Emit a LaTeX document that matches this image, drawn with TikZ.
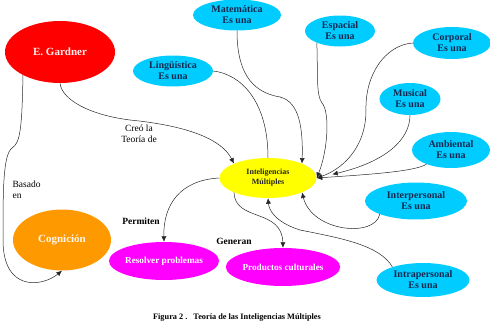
\documentclass[tikz,border=0pt]{standalone}
\usepackage{fontspec}
\setmainfont{Liberation Serif}
\usetikzlibrary{arrows.meta,shapes.geometric}

\definecolor{skyfill}{RGB}{0,204,255}
\definecolor{navytext}{RGB}{22,40,78}
\definecolor{redfill}{RGB}{255,0,0}
\definecolor{orangefill}{RGB}{255,153,0}
\definecolor{pinkfill}{RGB}{255,0,255}
\definecolor{yellowfill}{RGB}{255,255,0}

\begin{document}
\begin{tikzpicture}[
    x=1pt, y=-1pt,
    idea/.style={ellipse, inner sep=0pt, align=center,
                 font=\bfseries\fontsize{10}{11}\selectfont},
    kind/.style={idea, fill=skyfill, text=navytext},
    root/.style={idea, font=\bfseries\fontsize{11}{13}\selectfont},
    goal/.style={idea, fill=pinkfill, text=white,
                 font=\bfseries\fontsize{9.2}{11}\selectfont},
    link/.style={align=center, font=\fontsize{9.5}{11}\selectfont},
    verb/.style={font=\bfseries\fontsize{9.5}{11}\selectfont},
    arr/.style={-{Latex[length=5.5pt,width=5pt]}, line width=0.5pt, black!85},
    line/.style={line width=0.5pt, black!85}]
    \useasboundingbox (0,0) rectangle (490,324);
    % main nodes
    \node[root, fill=redfill, text=red!8, minimum width=110pt, minimum height=62pt]
        (gardner) at (60,52) {E. Gardner};
    \node[idea, fill=yellowfill, text=black!85, minimum width=97pt, minimum height=40pt,
          font=\bfseries\fontsize{8}{10}\selectfont]
        (multi) at (268,178) {Inteligencias\\ Múltiples};
    \node[root, fill=orangefill, text=orange!8, minimum width=98pt, minimum height=61pt]
        (cogn) at (62,240) {Cognición};
    \node[goal, minimum width=92pt, minimum height=38pt] (reso) at (164,261) {Resolver problemas};
    \node[goal, minimum width=103pt, minimum height=38pt] (prod) at (283,267) {Productos culturales};
    % the kinds of intelligence
    \node[kind, minimum width=80pt, minimum height=31pt] (ling) at (173,71) {Lingüística\\ Es una};
    \node[kind, minimum width=88pt, minimum height=31pt] (mate) at (237,15) {Matemática\\ Es una};
    \node[kind, minimum width=70pt, minimum height=31pt] (espa) at (340,31) {Espacial\\ Es una};
    \node[kind, minimum width=78pt, minimum height=32pt] (corp) at (452,43) {Corporal\\ Es una};
    \node[kind, minimum width=61pt, minimum height=32pt] (musi) at (410,99) {Musical\\ Es una};
    \node[kind, minimum width=78pt, minimum height=36pt] (ambi) at (451,150) {Ambiental\\ Es una};
    \node[kind, minimum width=102pt, minimum height=37pt] (inter) at (416,201) {Interpersonal\\ Es una};
    \node[kind, minimum width=93pt, minimum height=34pt] (intra) at (423,280) {Intrapersonal\\ Es una};
    % link words
    \node[link] (creo) at (139,134) {Creó la\\ Teoría de};
    \node[link, align=left, anchor=west] (basado) at (9,190) {Basado\\ en};
    \node[verb] (permiten) at (141,221) {Permiten};
    \node[verb] (generan) at (234,241) {Generan};
    \node[font=\bfseries\fontsize{8.3}{10}\selectfont] (caption) at (237,318)
        {Figura 2 .\hspace{6pt}Teoría de las Inteligencias Múltiples};
    % connectors
    \draw[arr] (gardner.south) .. controls (62,100) and (90,115) .. (130,120)
        .. controls (190,126) and (222,140) .. (multi.157);
    \draw[arr] (gardner.212) .. controls (22,130) and (20,143) .. (12,148)
        .. controls (3,155) and (3,190) .. (3,240)
        .. controls (3,292) and (42,287) .. (cogn.south);
    \draw[line] (ling.east) .. controls (240,74) and (268,100) .. (multi.north);
    \draw[arr] (mate.south) .. controls (237,70) and (250,92) .. (280,97)
        .. controls (300,102) and (303,130) .. (multi.23);
    \draw[arr] (espa.207) .. controls (318,75) and (316,95) .. (322,103)
        .. controls (330,112) and (328,150) .. (multi.east);
    \draw[arr] (corp.west) .. controls (385,45) and (365,75) .. (366,110)
        .. controls (366,150) and (340,170) .. (multi.east);
    \draw[arr, shorten >=16pt] (musi.south) .. controls (410,140) and (385,162) .. (multi.east);
    \draw[arr] (ambi.210) .. controls (415,172) and (360,175) .. (multi.east);
    \draw[arr] (inter.200) .. controls (375,238) and (312,232) .. (multi.-23);
    \draw[arr] (intra.157) .. controls (380,245) and (340,238) .. (300,230)
        .. controls (275,222) and (269,210) .. (multi.south);
    \draw[arr] (multi.west) .. controls (180,180) and (163,205) .. (reso.north);
    \draw[arr] (multi.203) .. controls (235,222) and (282,208) .. (prod.north);
\end{tikzpicture}
\end{document}
